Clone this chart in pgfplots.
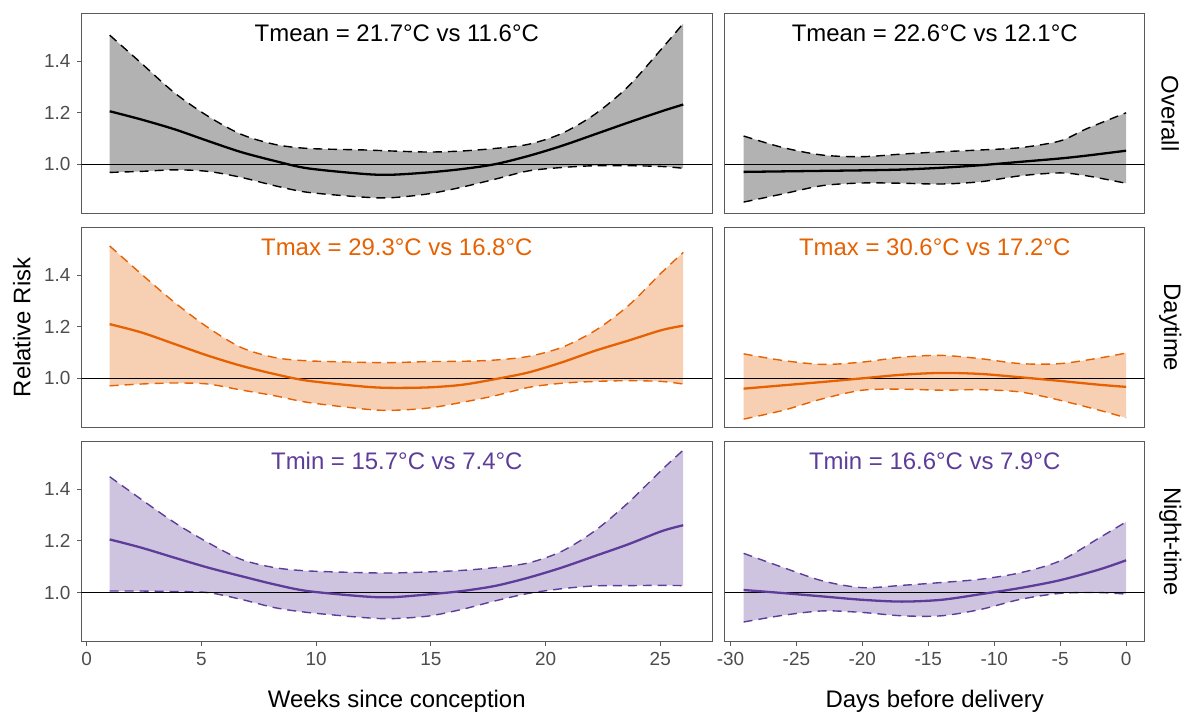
\documentclass[border=0pt]{standalone}
\usepackage{fontspec}
\setmainfont{Liberation Sans}
\usepackage{pgfplots}
\usepackage{pgfplotstable}
\pgfplotsset{compat=1.18}
\usepgfplotslibrary{fillbetween}

\definecolor{cOver}{RGB}{0,0,0}
\definecolor{cDay}{RGB}{230,97,1}
\definecolor{cNight}{RGB}{94,60,153}
\definecolor{tickgray}{RGB}{77,77,77}
\definecolor{framegray}{RGB}{90,90,90}

% weeks since conception (left column)
\pgfplotstableread{
x     lo    m     hi
1     0.969 1.206 1.501
2.38  0.973 1.174 1.392
3.83  0.979 1.136 1.277
5.28  0.973 1.091 1.187
6.72  0.950 1.048 1.117
8.17  0.918 1.014 1.078
9.62  0.892 0.985 1.062
12.09 0.873 0.963 1.056
13.3  0.871 0.960 1.052
14.9  0.886 0.969 1.048
16.36 0.912 0.982 1.052
17.81 0.943 1.001 1.062
19.26 0.975 1.033 1.078
20.71 0.988 1.072 1.120
22.16 0.995 1.117 1.195
23.6  0.995 1.162 1.302
25.06 0.992 1.206 1.448
26    0.985 1.232 1.546
}\tabOverW
\pgfplotstableread{
x     lo    m     hi
1     0.971 1.210 1.513
2.38  0.978 1.178 1.404
3.83  0.982 1.133 1.294
5.28  0.978 1.088 1.197
6.72  0.955 1.049 1.120
8.17  0.933 1.017 1.081
9.62  0.907 0.991 1.068
12.09 0.881 0.968 1.062
13.3  0.876 0.963 1.061
14.9  0.885 0.965 1.065
16.36 0.907 0.975 1.066
17.81 0.933 0.997 1.071
19.26 0.965 1.023 1.085
20.71 0.981 1.062 1.120
22.16 0.988 1.107 1.185
23.6  0.991 1.146 1.281
25.06 0.988 1.187 1.410
26    0.978 1.204 1.488
}\tabDayW
\pgfplotstableread{
x     lo    m     hi
1     1.006 1.206 1.449
2.38  1.006 1.174 1.361
3.83  1.004 1.135 1.271
5.28  1.000 1.097 1.194
6.72  0.974 1.064 1.129
8.17  0.942 1.032 1.097
9.62  0.923 1.006 1.084
12.09 0.903 0.985 1.077
13.3  0.899 0.982 1.076
14.9  0.909 0.993 1.080
16.36 0.935 1.006 1.086
17.81 0.968 1.026 1.097
19.26 0.997 1.058 1.115
20.71 1.015 1.097 1.160
22.16 1.026 1.142 1.240
23.6  1.027 1.187 1.348
25.06 1.028 1.238 1.475
26    1.027 1.261 1.552
}\tabNightW
% days before delivery (right column)
\pgfplotstableread{
x   lo    m     hi
-29 0.854 0.971 1.110
-26 0.886 0.973 1.065
-23 0.918 0.975 1.036
-20 0.928 0.977 1.030
-17 0.927 0.980 1.040
-14 0.924 0.987 1.049
-11 0.933 0.997 1.056
-8  0.956 1.010 1.065
-5  0.967 1.023 1.091
-3  0.956 1.034 1.138
0   0.927 1.053 1.200
}\tabOverD
\pgfplotstableread{
x   lo    m     hi
-29 0.842 0.960 1.095
-26 0.876 0.973 1.069
-23 0.921 0.986 1.054
-20 0.954 1.000 1.063
-17 0.958 1.014 1.082
-14 0.954 1.021 1.089
-11 0.956 1.017 1.076
-8  0.947 1.004 1.057
-5  0.915 0.990 1.057
-2  0.876 0.975 1.079
0   0.847 0.967 1.098
}\tabDayD
\pgfplotstableread{
x   lo    m     hi
-29 0.886 1.010 1.152
-26 0.912 0.998 1.097
-23 0.929 0.985 1.045
-20 0.923 0.972 1.019
-17 0.910 0.965 1.028
-14 0.910 0.972 1.039
-11 0.935 0.994 1.052
-8  0.974 1.018 1.077
-5  0.997 1.048 1.123
-2  1.000 1.090 1.213
0   0.994 1.125 1.274
}\tabNightD

\pgfplotsset{
  panel/.style={
    scale only axis, height=100.25pt,
    ymin=0.81, ymax=1.585,
    clip mode=individual,
    axis line style={draw=framegray, line width=0.6pt},
    tick align=outside, major tick length=2pt,
    xtick pos=bottom, ytick pos=left,
    tick style={draw=framegray, line width=0.5pt},
    ticklabel style={font=\fontsize{9.5}{11}\selectfont, text=tickgray},
    /pgf/number format/assume math mode=true,
  },
  leftcol/.style={panel, width=316.15pt, xmin=-0.23, xmax=27.26,
    ytick={1.0,1.2,1.4},
    yticklabel={\pgfmathprintnumber[fixed,fixed zerofill,precision=1]{\tick}}},
  rightcol/.style={panel, width=210.5pt, xmin=-30.43, xmax=1.41, ytick=\empty},
}

\newcommand{\ribbon}[3]{%
  \addplot[draw=none, smooth, name path=hi#3] table[x=x,y=hi]{#1};
  \addplot[draw=none, smooth, name path=lo#3] table[x=x,y=lo]{#1};
  \addplot[fill=#2, fill opacity=0.3, draw=none] fill between[of=hi#3 and lo#3];
  \addplot[no marks, draw=#2, smooth, line width=0.7pt, dash pattern=on 4.5pt off 3pt] table[x=x,y=hi]{#1};
  \addplot[no marks, draw=#2, smooth, line width=0.7pt, dash pattern=on 4.5pt off 3pt] table[x=x,y=lo]{#1};
  \addplot[no marks, black, line width=0.6pt] coordinates {(-40,1) (40,1)};
  \addplot[no marks, draw=#2, smooth, line width=1.15pt] table[x=x,y=m]{#1};
}
\newcommand{\paneltitle}[2]{%
  \node[anchor=base, text=#1, font=\fontsize{12}{14}\selectfont]
    at ([yshift=-14.2pt]rel axis cs:0.5,1) {#2};}
\newcommand{\strip}[1]{%
  \node[rotate=-90, font=\fontsize{12}{14}\selectfont]
    at ([xshift=12.8pt]rel axis cs:1,0.5) {#1};}

\begin{document}
\begin{tikzpicture}
\path (0,0) rectangle (594pt,358.5pt);

% row 1: overall
\begin{axis}[leftcol, xtick=\empty, at={(40.85pt,251.5pt)}, anchor=south west]
\ribbon{\tabOverW}{cOver}{a}
\paneltitle{black}{Tmean = 21.7°C vs 11.6°C}
\end{axis}
\begin{axis}[rightcol, xtick=\empty, at={(363.35pt,251.5pt)}, anchor=south west]
\ribbon{\tabOverD}{cOver}{b}
\paneltitle{black}{Tmean = 22.6°C vs 12.1°C}
\strip{Overall}
\end{axis}

% row 2: daytime
\begin{axis}[leftcol, xtick=\empty, at={(40.85pt,144.25pt)}, anchor=south west]
\ribbon{\tabDayW}{cDay}{c}
\paneltitle{cDay}{Tmax = 29.3°C vs 16.8°C}
\node[rotate=90, font=\fontsize{12}{14}\selectfont]
  at ([xshift=-29.85pt]rel axis cs:0,0.5) {Relative Risk};
\end{axis}
\begin{axis}[rightcol, xtick=\empty, at={(363.35pt,144.25pt)}, anchor=south west]
\ribbon{\tabDayD}{cDay}{d}
\paneltitle{cDay}{Tmax = 30.6°C vs 17.2°C}
\strip{Daytime}
\end{axis}

% row 3: night-time
\begin{axis}[leftcol, xtick={0,5,10,15,20,25}, at={(40.85pt,36.85pt)}, anchor=south west]
\ribbon{\tabNightW}{cNight}{e}
\paneltitle{cNight}{Tmin = 15.7°C vs 7.4°C}
\node[font=\fontsize{12}{14}\selectfont]
  at ([yshift=-29.85pt]rel axis cs:0.5,0) {Weeks since conception};
\end{axis}
\begin{axis}[rightcol, xtick={-30,-25,-20,-15,-10,-5,0}, at={(363.35pt,36.85pt)}, anchor=south west]
\ribbon{\tabNightD}{cNight}{f}
\paneltitle{cNight}{Tmin = 16.6°C vs 7.9°C}
\strip{Night-time}
\node[font=\fontsize{12}{14}\selectfont]
  at ([yshift=-29.85pt]rel axis cs:0.5,0) {Days before delivery};
\end{axis}
\end{tikzpicture}
\end{document}
